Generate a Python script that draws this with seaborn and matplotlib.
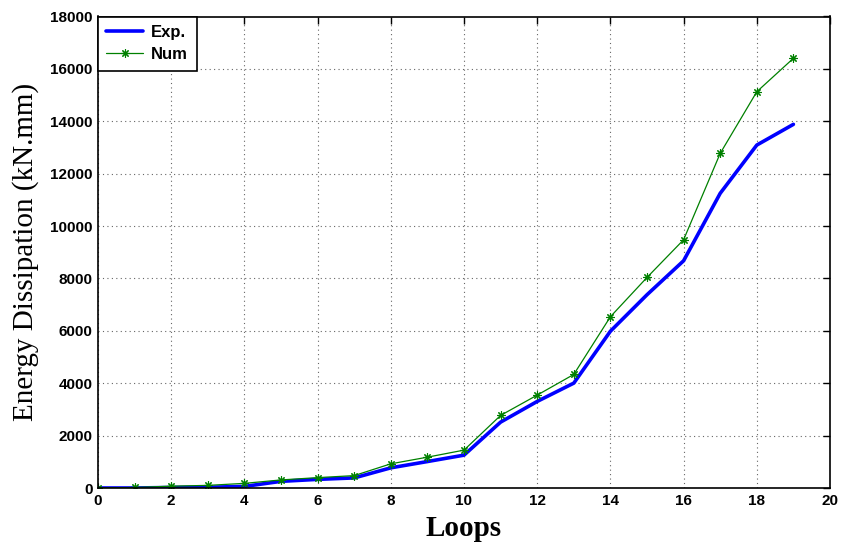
import matplotlib
matplotlib.use("Agg")
import matplotlib.pyplot as plt
import seaborn as sns
import pandas as pd
import numpy as np

loops = list(range(20))
exp_vals = [0, 0, 20, 30, 60, 254, 330, 385, 770, 1010, 1254, 2515, 3305, 4004,
            5985, 7378, 8675, 11250, 13092, 13883]
num_vals = [0, 20, 70, 100, 177, 308, 396, 473, 923, 1177, 1446, 2771, 3546, 4336,
            6538, 8038, 9477, 12775, 15128, 16404]
xticks = list(range(0, 21, 2))
yticks = list(range(0, 18001, 2000))

sns.set_style("white")
plt.rcParams['font.family'] = ['Liberation Sans', 'DejaVu Sans']
plt.rcParams['text.color'] = 'black'
plt.rcParams['axes.labelcolor'] = 'black'
plt.rcParams['xtick.color'] = 'black'
plt.rcParams['ytick.color'] = 'black'

fig = plt.figure(figsize=(8.44, 5.47), dpi=100)
ax = fig.add_axes([98/844, 1-488/547, (830-98)/844, (488-16.5)/547])

df = pd.DataFrame({"Loops": loops, "Exp.": exp_vals, "Num": num_vals})
sns.lineplot(data=df, x="Loops", y="Exp.", ax=ax, color="#0000ff", lw=2.6, label="Exp.")
sns.lineplot(data=df, x="Loops", y="Num", ax=ax, color="#008000", lw=0.9, marker=(8, 2, 0),
             markersize=6, markeredgewidth=0.8, markeredgecolor="#008000", label="Num")

ax.set_xlim(0, 20)
ax.set_ylim(0, 18000)
ax.set_xticks(xticks)
ax.set_yticks(yticks)
ax.set_xticklabels([str(t) for t in xticks], fontweight="bold", fontsize=11, color="black")
ax.set_yticklabels([str(t) for t in yticks], fontweight="bold", fontsize=11, color="black")
ax.tick_params(direction="in", top=True, right=True, length=5, width=1, pad=4, colors="black")
ax.grid(True, linestyle=(0, (1, 3)), color="#666666", lw=0.8)
for s in ax.spines.values():
    s.set_color("black")
    s.set_linewidth(1.2)

ax.set_xlabel("Loops", family="Liberation Serif", fontweight="bold", fontsize=21, labelpad=5,
              color="black")
ax.set_ylabel("Energy Dissipation (kN.mm)", family="Liberation Serif", fontsize=21, labelpad=8,
              color="black")

leg = ax.legend(loc="upper left", borderaxespad=0, fancybox=False, frameon=True,
                prop={"weight": "bold", "size": 12}, handlelength=2.2,
                borderpad=0.5, labelspacing=0.45, handletextpad=0.5)
for t in leg.get_texts():
    t.set_color("black")
leg.get_frame().set_edgecolor("black")
leg.get_frame().set_linewidth(1.2)
leg.get_frame().set_alpha(1)

fig.savefig("out.png", dpi=100)
